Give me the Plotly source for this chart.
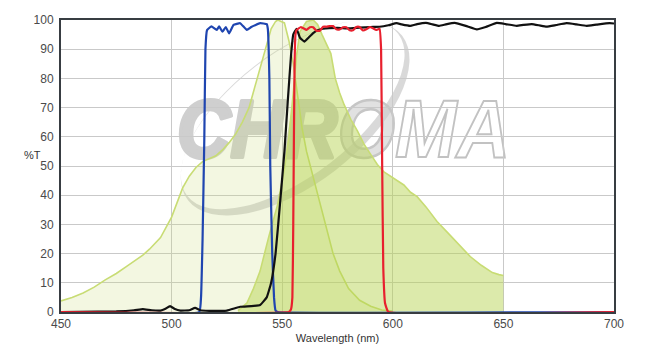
import base64
import plotly.graph_objects as go

# ---------------- data ----------------
ex_wl = [450, 455, 460, 465, 470, 475, 480, 487, 490, 495, 500, 503, 505, 508, 511, 514, 517, 520, 523,
         526, 529, 532, 535, 538, 541, 543, 545, 547, 548, 551, 553, 555, 557, 559, 561, 564, 567, 570,
         573, 576, 580, 585, 590, 595, 600]
ex_t = [3.8, 5, 6.5, 8.5, 11, 13.2, 15.8, 19.5, 21.5, 25.5, 32.5, 38.5, 42.5, 46.5, 49.5, 51.5, 52.5, 53.5,
        55.5, 58, 61, 65, 70, 78, 86, 92, 97, 99.5, 100, 99, 93, 85, 73, 63, 55, 46, 37, 28,
        20, 14, 8, 4, 2, 0.7, 0.3]

em_wl = [530, 534, 537, 540, 544, 548, 551, 553, 555, 556.5, 558, 561, 564, 566, 568, 570, 572, 574, 576,
         578, 581, 584, 587, 590, 593, 596, 599, 602, 605, 608, 611, 615, 620, 625, 630, 635, 640, 645,
         648, 650]
em_t = [0.5, 3, 8, 14, 26, 37, 49, 60, 75, 88, 96, 99.5, 100, 98.5, 95, 91.5, 88.5, 80, 75,
        71, 66, 62, 57.5, 54, 50.5, 48, 46.5, 45, 43.5, 41, 39.5, 36, 31, 27, 23, 19, 16, 13.5,
        12.8, 12.5]

ex_filter_wl = [450, 512.5, 513.3, 514, 514.8, 515.3, 516, 516.6, 518, 520.4, 521.5, 523, 524.5, 526, 528,
                531, 534, 536, 538, 540, 543, 543.5, 544.2, 544.6, 545.5, 546.3, 547, 548, 700]
ex_filter_t = [0, 0, 5, 25, 60, 90, 96.5, 97, 97.8, 96.6, 97.8, 96, 97.6, 95.4, 98.3,
               98.9, 96.6, 97.6, 98.3, 98.9, 98.6, 97, 80, 50, 20, 5, 0.5, 0, 0]

dich_wl = [450, 475, 483, 487, 491, 495, 497, 499.3, 501.5, 504, 508, 510.6, 513, 517, 525, 531, 536, 540,
           543, 545, 547, 549, 551, 552.5, 554, 555, 556.5, 558, 560, 562, 564, 566, 568.5, 575, 580, 585,
           590, 594, 598, 601.7, 604, 607.8, 611, 615, 618, 621, 624, 628, 633, 638, 642, 647, 651, 656,
           659, 662.8, 666, 669.5, 674, 678.6, 683, 687.6, 692, 698, 700]
dich_t = [0, 0.2, 0.6, 1, 0.6, 0.5, 1, 2, 1, 0.5, 0.6, 1.4, 0.6, 0.4, 0.5, 1.8, 2, 2.4,
          5, 10, 20, 37, 55, 72, 88, 95, 97, 94, 92.6, 94, 95.5, 96.5, 97, 97.3, 97.1, 97.4,
          97.6, 97.7, 98.2, 98.9, 98.5, 98, 98.6, 99, 98.5, 98, 98.5, 99, 98, 96.8, 97.6, 99, 98.6, 98,
          98.3, 98.6, 98.2, 97.7, 98.3, 98.9, 98.5, 98, 98.4, 98.9, 98.8]

em_filter_wl = [450, 553, 554, 554.6, 555, 555.3, 555.6, 556, 556.5, 558.5, 561, 562.5, 564, 565.5, 567,
                568.5, 570, 571.5, 573, 574.5, 576, 577.5, 579, 580.5, 582, 583.5, 585, 586.5, 588,
                589.5, 591, 592.5, 594, 594.7, 595.2, 595.7, 596.5, 598, 700]
em_filter_t = [0, 0, 1, 5, 30, 60, 85, 95, 96.6, 97.6, 96.6, 97.5, 97.5, 96.3, 96.3,
               97.7, 97.7, 97.9, 97.9, 96.8, 96.8, 97.5, 97.5, 96.5, 96.5, 97.6, 97.6, 96.4, 96.8,
               97.6, 97.2, 96.6, 97, 90, 50, 15, 3, 0, 0]

x_ticks = [450, 500, 550, 600, 650, 700]
y_ticks = [0, 10, 20, 30, 40, 50, 60, 70, 80, 90, 100]

# ---------------- watermark ----------------
svg = """<svg xmlns="http://www.w3.org/2000/svg" width="380" height="200" viewBox="0 0 380 200">
<g transform="translate(135,98) rotate(-37.5)">
<path fill-rule="evenodd" fill="#d2d2d2" fill-opacity="0.85"
 d="M -135 0 A 135 66 0 1 0 135 0 A 135 66 0 1 0 -135 0 Z M -133 -4 A 133 61 0 1 0 133 -4 A 133 61 0 1 0 -133 -4 Z"/>
</g>
<text x="17" y="137" font-family="Liberation Sans, Arial, sans-serif" font-size="82" font-weight="bold"
 font-style="italic" textLength="333" lengthAdjust="spacingAndGlyphs"><tspan fill="#cfcfcf" stroke="#cfcfcf"
 stroke-width="4" stroke-linejoin="round">CHR</tspan><tspan
 fill="#cdcdcd" fill-opacity="0.6" stroke="#c6c6c6" stroke-width="2.5">O</tspan><tspan fill="#ffffff" fill-opacity="0.35"
 stroke="#c2c2c2" stroke-width="2">MA</tspan></text>
</svg>"""
svg_uri = "data:image/svg+xml;base64," + base64.b64encode(svg.encode()).decode()

fig = go.Figure()

fig.add_trace(go.Scatter(x=ex_wl, y=ex_t, mode="lines", fill="tozeroy",
                         fillcolor="rgba(200,220,120,0.22)",
                         line=dict(color="#c8dc74", width=1.6), hoverinfo="skip"))
fig.add_trace(go.Scatter(x=em_wl, y=em_t, mode="lines", fill="tozeroy",
                         fillcolor="rgba(182,212,80,0.48)",
                         line=dict(color="#c8dc74", width=1.6), hoverinfo="skip"))
fig.add_trace(go.Scatter(x=ex_filter_wl, y=ex_filter_t, mode="lines",
                         line=dict(color="#1f45b0", width=2.2, shape="spline", smoothing=0.3)))
fig.add_trace(go.Scatter(x=dich_wl, y=dich_t, mode="lines",
                         line=dict(color="#111111", width=2.2, shape="spline", smoothing=0.3)))
fig.add_trace(go.Scatter(x=em_filter_wl, y=em_filter_t, mode="lines",
                         line=dict(color="#e8202e", width=2.2, shape="spline", smoothing=0.3)))

fig.add_layout_image(dict(source=svg_uri, xref="x", yref="y", x=494.8, y=100, sizex=171.8, sizey=68.5,
                          sizing="stretch", layer="below", xanchor="left", yanchor="top"))

axis_common = dict(showline=True, linecolor="#383d42", linewidth=2, mirror=True,
                   showgrid=True, gridcolor="#c9c9c9", gridwidth=1, zeroline=False,
                   ticks="", tickfont=dict(family="Liberation Sans, Arial, sans-serif", size=12, color="#4a4a4a"))

fig.update_xaxes(range=[450, 700], tickvals=x_ticks, ticktext=[str(v) for v in x_ticks],
                 title=dict(text="Wavelength (nm)", standoff=4,
                            font=dict(family="Liberation Sans, Arial, sans-serif", size=11, color="#333")),
                 **axis_common)
fig.update_yaxes(range=[0, 100], tickvals=y_ticks, ticktext=[str(v) for v in y_ticks], ticklabelstandoff=3,
                 **axis_common)

fig.add_annotation(text="%T", xref="paper", yref="paper", x=-0.032, y=0.5377, xanchor="right",
                   yanchor="middle", showarrow=False,
                   font=dict(family="Liberation Sans, Arial, sans-serif", size=11, color="#333"))

fig.update_layout(width=652, height=354, margin=dict(l=61, r=38, t=20, b=42),
                  paper_bgcolor="white", plot_bgcolor="white", showlegend=False)

fig.write_html("out.html")
